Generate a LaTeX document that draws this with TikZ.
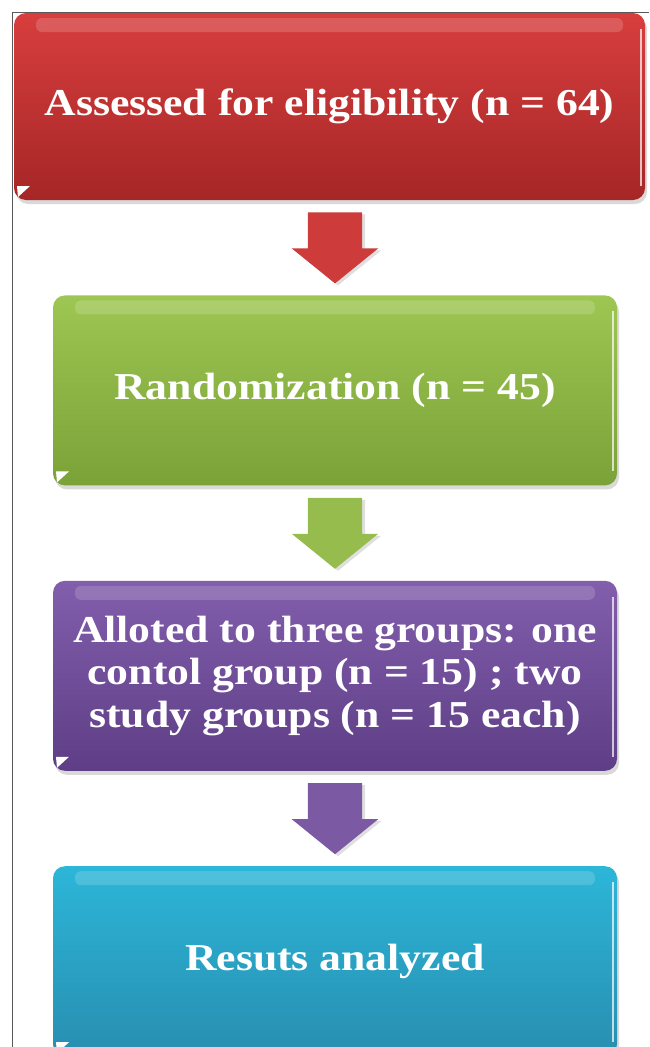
\documentclass[tikz,border=0pt]{standalone}
\usepackage{fontspec}
\setmainfont{Liberation Serif}[FakeStretch=1.15]
\usetikzlibrary{positioning, calc, shapes.arrows, shadows}

\definecolor{redTop}{RGB}{216,62,62}
\definecolor{redBot}{RGB}{166,38,38}
\definecolor{greenTop}{RGB}{158,198,82}
\definecolor{greenBot}{RGB}{122,162,56}
\definecolor{purpleTop}{RGB}{130,94,172}
\definecolor{purpleBot}{RGB}{94,62,134}
\definecolor{blueTop}{RGB}{44,182,216}
\definecolor{blueBot}{RGB}{40,142,176}

\begin{document}
\begin{tikzpicture}[x=1pt, y=1pt, node distance=95pt,
  stage/.style={rounded corners=12pt, minimum width=564pt, minimum height=190pt,
    inner sep=0pt, align=center, text=white,
    font=\fontsize{38}{42.5}\selectfont\bfseries,
    drop shadow={opacity=0.3, shadow xshift=2pt, shadow yshift=-4pt},
    path picture={
      \fill[white, opacity=0.16, rounded corners=6pt] ([xshift=22pt, yshift=-5pt]path picture bounding box.north west)
        rectangle ([xshift=-22pt, yshift=-19pt]path picture bounding box.north east);
      \draw[white, opacity=0.7, line width=1.5pt, sharp corners] ([xshift=-4pt, yshift=-16pt]path picture bounding box.north east)
        -- ([xshift=-4pt, yshift=14pt]path picture bounding box.south east);
      \fill[white, sharp corners] ([xshift=3pt, yshift=14pt]path picture bounding box.south west)
        -- ++(13pt,0pt) -- ++(-12pt,-11pt) -- cycle;
    }},
  downarrow/.style={single arrow, rotate=-90, anchor=tail, minimum height=71pt, minimum width=86pt,
    single arrow head extend=16pt, single arrow tip angle=102, inner xsep=0pt, inner ysep=27pt,
    drop shadow={opacity=0.25, shadow xshift=3pt, shadow yshift=-2pt}}]

  \clip (0,0) rectangle (649,-1047);

  % frame edges
  \draw[gray!70!black, line width=1pt] (12,-1047) -- (12,-12) -- (649,-12);

  \node[stage, top color=redTop, bottom color=redBot, minimum width=631pt, minimum height=187pt]
    (assess) at (329.5,-106.5) {Assessed for eligibility (n = 64)};
  \node[stage, top color=greenTop, bottom color=greenBot, below=of assess, xshift=5.5pt]
    (random) {Randomization (n = 45)};
  \node[stage, top color=purpleTop, bottom color=purpleBot, below=of random]
    (allot) {Alloted to three groups: one\\contol group (n = 15) ; two\\study groups (n = 15 each)};
  \node[stage, top color=blueTop, bottom color=blueBot, below=of allot]
    (results) {Resuts analyzed};

  \node[downarrow, fill=redTop!95!black] (arrA) at ($(assess.south -| random.north)+(0,-12)$) {};
  \node[downarrow, fill=greenTop!95!black] (arrB) at ($(random.south)+(0,-12)$) {};
  \node[downarrow, fill=purpleTop!95!black] (arrC) at ($(allot.south)+(0,-12)$) {};

\end{tikzpicture}
\end{document}
